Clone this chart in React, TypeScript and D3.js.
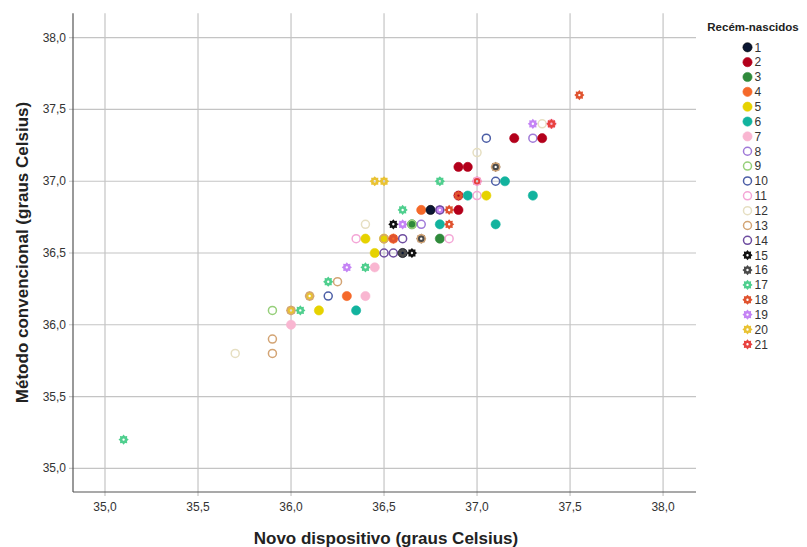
import React, { useMemo } from "react";
import * as d3 from "d3";

// Recém-nascidos (legend categories)
const newborns = [
  "1", "2", "3", "4", "5", "6", "7", "8", "9", "10", "11",
  "12", "13", "14", "15", "16", "17", "18", "19", "20", "21"
];

// one entry per measurement, in drawing order (later ones sit on top)
const novoDispositivo = [
  37.55, 37.3, 37.35, 37.4, 37.4, 37.05, 37.2, 37.3, 37.35, 37.0,
  36.9, 36.95, 37.1, 37.1, 36.45, 36.5, 36.8, 37.0, 37.0, 37.1,
  37.15, 36.9, 36.9, 36.95, 37.0, 37.05, 37.3, 36.6, 36.7, 36.75,
  36.8, 36.8, 36.85, 36.9, 36.4, 36.55, 36.6, 36.65, 36.65, 36.7,
  36.8, 36.85, 37.1, 36.35, 36.4, 36.5, 36.5, 36.55, 36.55, 36.6,
  36.7, 36.7, 36.8, 36.85, 36.45, 36.5, 36.55, 36.6, 36.6, 36.65,
  36.3, 36.4, 36.45, 36.2, 36.25, 36.1, 36.1, 36.2, 36.3, 36.4,
  35.9, 36.0, 36.0, 36.05, 36.15, 36.35, 36.0, 35.9, 35.9, 35.7,
  35.1
];
const metodoConvencional = [
  37.6, 37.4, 37.4, 37.4, 37.4, 37.3, 37.3, 37.3, 37.3, 37.2,
  37.1, 37.1, 37.1, 37.1, 37.0, 37.0, 37.0, 37.0, 37.0, 37.0,
  37.0, 36.9, 36.9, 36.9, 36.9, 36.9, 36.9, 36.8, 36.8, 36.8,
  36.8, 36.8, 36.8, 36.8, 36.7, 36.7, 36.7, 36.7, 36.7, 36.7,
  36.7, 36.7, 36.7, 36.6, 36.6, 36.6, 36.6, 36.6, 36.6, 36.6,
  36.6, 36.6, 36.6, 36.6, 36.5, 36.5, 36.5, 36.5, 36.5, 36.5,
  36.4, 36.4, 36.4, 36.3, 36.3, 36.2, 36.2, 36.2, 36.2, 36.2,
  36.1, 36.1, 36.1, 36.1, 36.1, 36.1, 36.0, 35.9, 35.8, 35.8,
  35.2
];
const recemNascido = [
  "18", "19", "12", "7", "21", "10", "2", "8", "2", "12",
  "2", "2", "16", "13", "20", "20", "17", "21", "11", "10",
  "6", "2", "18", "6", "11", "5", "6", "17", "4", "1",
  "19", "14", "18", "2", "12", "15", "19", "3", "9", "8",
  "6", "18", "6", "11", "5", "5", "13", "4", "18", "14",
  "16", "13", "3", "11", "5", "14", "14", "1", "16", "15",
  "19", "17", "7", "17", "13", "20", "13", "10", "4", "7",
  "9", "20", "13", "17", "5", "6", "7", "13", "13", "12",
  "17"
];

const xTicks = [35.0, 35.5, 36.0, 36.5, 37.0, 37.5, 38.0];
const yTicks = [35.0, 35.5, 36.0, 36.5, 37.0, 37.5, 38.0];

// marker style per newborn
const markerColors = [
  "#0b1733", "#b3001b", "#2f8a3b", "#f5692a", "#e6d200", "#12b39e", "#f9b6d1",
  "#a07ad8", "#96cf7a", "#4c5ea6", "#f4a6d6", "#e6dfc2", "#d3a474", "#6f4ea0",
  "#111111", "#4a4a4a", "#4fcf8e", "#e0532f", "#c584f5", "#e9c233", "#e8423f"
];
const markerKinds = [
  "filled", "filled", "filled", "filled", "filled", "filled", "filled",
  "hollow", "hollow", "hollow", "hollow", "hollow", "hollow", "hollow",
  "star", "star", "star", "star", "star", "star", "star"
];

const W = 807;
const H = 547;
const FONT = "'Liberation Sans', Arial, sans-serif";

function starPath(outer: number, inner: number, hole: number) {
  const p = d3.path();
  const n = 16;
  for (let i = 0; i < n; i++) {
    const a = (i / n) * Math.PI * 2 - Math.PI / 2;
    const r = i % 2 === 0 ? outer : inner;
    const px = Math.cos(a) * r;
    const py = Math.sin(a) * r;
    if (i === 0) p.moveTo(px, py);
    else p.lineTo(px, py);
  }
  p.closePath();
  p.moveTo(hole, 0);
  p.arc(0, 0, hole, 0, Math.PI * 2);
  p.closePath();
  return p.toString();
}

const STAR = starPath(5.1, 3.7, 1.2);

function Marker({ x, y, id }: { x: number; y: number; id: string }) {
  const i = newborns.indexOf(id);
  const color = markerColors[i];
  const kind = markerKinds[i];
  if (kind === "filled") {
    return <circle cx={x} cy={y} r={4.6} fill={color} stroke={i === 0 ? "#000" : color} strokeWidth={0.6} />;
  }
  if (kind === "hollow") {
    return <circle cx={x} cy={y} r={4} fill="none" stroke={color} strokeWidth={1.5} />;
  }
  return <path d={STAR} transform={`translate(${x},${y})`} fill={color} fillRule="evenodd" />;
}

export default function App() {
  const x = useMemo(() => d3.scaleLinear().domain([34.828, 38.177]).range([73, 696]), []);
  const y = useMemo(() => d3.scaleLinear().domain([34.837, 38.17]).range([491.7, 13.3]), []);
  const fmt = (v: number) => v.toFixed(1).replace(".", ",");

  const points = novoDispositivo.map((v, i) => ({
    x: x(v),
    y: y(metodoConvencional[i]),
    id: recemNascido[i]
  }));

  const legendY = d3.scalePoint<string>().domain(newborns).range([47.3, 344.3]);

  return (
    <svg
      width={W}
      height={H}
      style={{ position: "absolute", left: 0, top: 0, background: "#fff" }}
      fontFamily={FONT}
    >
      <rect width={W} height={H} fill="#fff" />
      {/* grid */}
      {xTicks.map((t) => (
        <line key={`gx${t}`} x1={x(t)} x2={x(t)} y1={13.3} y2={496} stroke="#c4c4c4" strokeWidth={1.2} />
      ))}
      {yTicks.map((t) => (
        <line key={`gy${t}`} x1={69} x2={696} y1={y(t)} y2={y(t)} stroke="#c4c4c4" strokeWidth={1.2} />
      ))}
      {/* axes */}
      <line x1={73} x2={73} y1={13.3} y2={492} stroke="#555" strokeWidth={1.2} />
      <line x1={73} x2={696} y1={492} y2={492} stroke="#555" strokeWidth={1.2} />
      {xTicks.map((t) => (
        <text key={`tx${t}`} x={x(t)} y={511} textAnchor="middle" fontSize={12} fill="#333">
          {fmt(t)}
        </text>
      ))}
      {yTicks.map((t) => (
        <text key={`ty${t}`} x={66} y={y(t) + 4} textAnchor="end" fontSize={12} fill="#333">
          {fmt(t)}
        </text>
      ))}
      <text x={386} y={544} textAnchor="middle" fontSize={17} fontWeight="bold" fill="#222">
        Novo dispositivo (graus Celsius)
      </text>
      <text
        transform={`translate(28, ${(13.3 + 491.7) / 2}) rotate(-90)`}
        textAnchor="middle"
        fontSize={17}
        fontWeight="bold"
        fill="#222"
      >
        Método convencional (graus Celsius)
      </text>
      {/* points */}
      {points.map((p, i) => (
        <Marker key={i} x={p.x} y={p.y} id={p.id} />
      ))}
      {/* legend */}
      <text x={753} y={31} textAnchor="middle" fontSize={11.5} fontWeight="bold" fill="#222">
        Recém-nascidos
      </text>
      {newborns.map((n) => (
        <g key={`lg${n}`}>
          <Marker x={747.5} y={legendY(n) as number} id={n} />
          <text x={754.5} y={(legendY(n) as number) + 4.3} fontSize={12} fill="#333">
            {n}
          </text>
        </g>
      ))}
    </svg>
  );
}
